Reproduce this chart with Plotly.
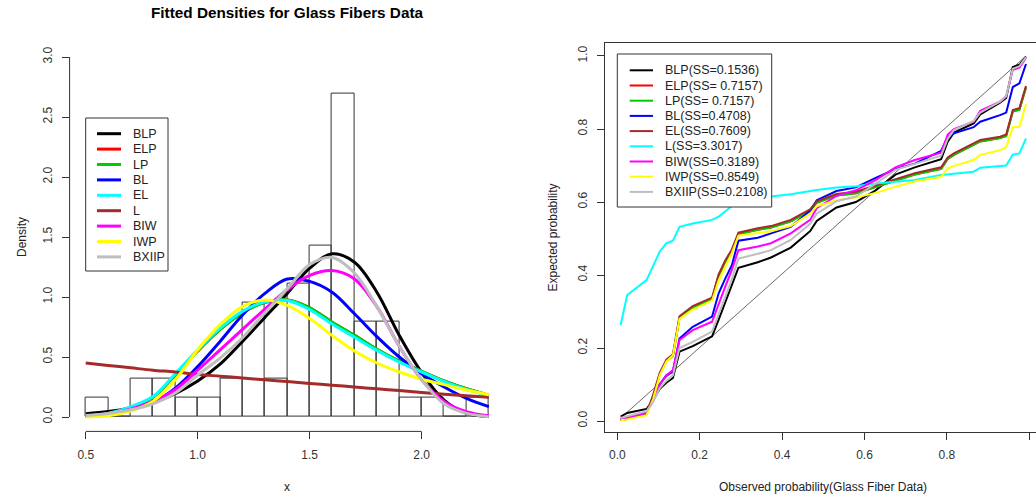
import plotly.graph_objects as go

# ---------------- Left panel: histogram + fitted densities ----------------
hist_breaks = [0.5, 0.6, 0.7, 0.8, 0.9, 1.0, 1.1, 1.2, 1.3, 1.4, 1.5, 1.6, 1.7, 1.8, 1.9, 2.0, 2.1, 2.2, 2.3]
hist_density = [0.159, 0.0, 0.317, 0.317, 0.159, 0.159, 0.317, 0.952, 0.317, 1.111,
                1.429, 2.698, 0.794, 0.794, 0.159, 0.159, 0.0, 0.159]

dens_x = [0.5, 0.6, 0.7, 0.8, 0.9, 1.0, 1.1, 1.2, 1.3, 1.4, 1.5, 1.6, 1.7, 1.8, 1.9, 2.0, 2.1, 2.2, 2.3]
dens_BLP = [0.027, 0.045, 0.075, 0.12, 0.195, 0.30, 0.44, 0.63, 0.83, 1.03, 1.24, 1.36, 1.29, 1.04, 0.68, 0.37, 0.14, 0.03, 0.004]
dens_ELP = [0.008, 0.028, 0.08, 0.165, 0.35, 0.55, 0.73, 0.87, 0.955, 0.975, 0.91, 0.79, 0.68, 0.565, 0.465, 0.38, 0.30, 0.235, 0.18]
dens_LP = [0.008, 0.028, 0.08, 0.165, 0.35, 0.55, 0.73, 0.87, 0.955, 0.975, 0.91, 0.79, 0.68, 0.565, 0.465, 0.38, 0.30, 0.235, 0.18]
dens_BL = [0.006, 0.02, 0.06, 0.12, 0.24, 0.42, 0.63, 0.85, 1.03, 1.15, 1.13, 1.04, 0.86, 0.67, 0.50, 0.36, 0.25, 0.155, 0.086]
dens_EL = [0.01, 0.03, 0.085, 0.17, 0.36, 0.56, 0.74, 0.88, 0.96, 0.97, 0.895, 0.775, 0.665, 0.555, 0.458, 0.375, 0.295, 0.23, 0.175]
dens_L = [0.45, 0.43, 0.41, 0.39, 0.375, 0.355, 0.34, 0.325, 0.31, 0.295, 0.28, 0.265, 0.25, 0.235, 0.22, 0.205, 0.19, 0.178, 0.165]
dens_BIW = [0.008, 0.025, 0.065, 0.13, 0.23, 0.39, 0.56, 0.73, 0.90, 1.06, 1.18, 1.22, 1.15, 0.92, 0.59, 0.31, 0.13, 0.045, 0.01]
dens_IWP = [0.0, 0.01, 0.05, 0.13, 0.31, 0.56, 0.77, 0.92, 0.975, 0.93, 0.82, 0.68, 0.55, 0.45, 0.375, 0.315, 0.27, 0.225, 0.185]
dens_BXIIP = [0.012, 0.03, 0.06, 0.11, 0.20, 0.35, 0.49, 0.66, 0.87, 1.07, 1.27, 1.33, 1.20, 0.92, 0.59, 0.31, 0.11, 0.03, 0.003]

dens_names = ["BLP", "ELP", "LP", "BL", "EL", "L", "BIW", "IWP", "BXIIP"]
dens_colors = ["#000000", "#FF0000", "#00CD00", "#0000FF", "#00FFFF", "#A52A2A", "#FF00FF", "#FFFF00", "#BEBEBE"]
dens_series = [dens_BLP, dens_ELP, dens_LP, dens_BL, dens_EL, dens_L, dens_BIW, dens_IWP, dens_BXIIP]

# ---------------- Right panel: P-P plot ----------------
pp_obs = [0.008, 0.024, 0.071, 0.087, 0.103, 0.119, 0.135, 0.151, 0.183, 0.230, 0.246, 0.262, 0.278, 0.294,
          0.341, 0.373, 0.421, 0.468, 0.484, 0.532, 0.579, 0.627, 0.675, 0.722, 0.786, 0.802, 0.817, 0.865,
          0.881, 0.929, 0.944, 0.960, 0.976, 0.992]
pp_BLP = [0.012, 0.022, 0.033, 0.058, 0.088, 0.105, 0.118, 0.19, 0.205, 0.232, 0.278, 0.325, 0.37, 0.42,
          0.435, 0.448, 0.475, 0.52, 0.548, 0.585, 0.60, 0.632, 0.675, 0.695, 0.717, 0.765, 0.79, 0.815,
          0.84, 0.872, 0.885, 0.97, 0.976, 0.998]
pp_ELP = [0.003, 0.006, 0.02, 0.068, 0.128, 0.164, 0.179, 0.283, 0.311, 0.334, 0.398, 0.436, 0.466, 0.512,
          0.524, 0.53, 0.547, 0.576, 0.598, 0.618, 0.624, 0.641, 0.658, 0.675, 0.691, 0.718, 0.729, 0.757,
          0.766, 0.775, 0.781, 0.848, 0.853, 0.914]
pp_LP = [0.003, 0.006, 0.02, 0.068, 0.128, 0.164, 0.179, 0.283, 0.311, 0.334, 0.398, 0.436, 0.466, 0.512,
         0.524, 0.53, 0.547, 0.576, 0.598, 0.618, 0.624, 0.641, 0.658, 0.675, 0.691, 0.718, 0.729, 0.757,
         0.766, 0.775, 0.781, 0.848, 0.853, 0.914]
pp_BL = [0.005, 0.009, 0.022, 0.058, 0.10, 0.125, 0.135, 0.226, 0.258, 0.286, 0.35, 0.39, 0.427, 0.494,
         0.502, 0.514, 0.532, 0.576, 0.605, 0.63, 0.64, 0.666, 0.69, 0.705, 0.74, 0.778, 0.788, 0.805,
         0.82, 0.838, 0.845, 0.915, 0.925, 0.978]
pp_EL = [0.003, 0.006, 0.02, 0.072, 0.132, 0.168, 0.183, 0.287, 0.315, 0.338, 0.402, 0.44, 0.47, 0.516,
         0.528, 0.534, 0.551, 0.58, 0.602, 0.622, 0.628, 0.645, 0.662, 0.679, 0.695, 0.722, 0.733, 0.761,
         0.77, 0.779, 0.785, 0.852, 0.857, 0.918]
pp_L = [0.263, 0.345, 0.386, 0.423, 0.464, 0.487, 0.494, 0.532, 0.541, 0.551, 0.56, 0.574, 0.589, 0.60,
        0.61, 0.615, 0.621, 0.631, 0.633, 0.64, 0.643, 0.651, 0.656, 0.66, 0.674, 0.676, 0.678, 0.683,
        0.694, 0.699, 0.70, 0.73, 0.733, 0.774]
pp_BIW = [0.005, 0.009, 0.022, 0.055, 0.10, 0.125, 0.14, 0.222, 0.249, 0.272, 0.322, 0.368, 0.414, 0.468,
          0.478, 0.487, 0.514, 0.551, 0.583, 0.617, 0.632, 0.66, 0.695, 0.715, 0.735, 0.785, 0.80, 0.82,
          0.85, 0.875, 0.89, 0.962, 0.968, 0.995]
pp_IWP = [0.002, 0.004, 0.016, 0.06, 0.125, 0.163, 0.18, 0.28, 0.305, 0.33, 0.385, 0.425, 0.46, 0.508,
          0.516, 0.52, 0.534, 0.568, 0.588, 0.605, 0.612, 0.625, 0.642, 0.656, 0.669, 0.692, 0.699, 0.715,
          0.729, 0.742, 0.75, 0.805, 0.806, 0.868]
pp_BXIIP = [0.008, 0.013, 0.027, 0.052, 0.09, 0.11, 0.125, 0.20, 0.217, 0.245, 0.29, 0.34, 0.388, 0.445,
            0.458, 0.468, 0.496, 0.54, 0.568, 0.602, 0.615, 0.65, 0.688, 0.705, 0.727, 0.773, 0.797, 0.822,
            0.845, 0.875, 0.89, 0.965, 0.972, 0.997]
diag_x = [0.008, 0.992]
diag_y = [0.008, 1.0]

pp_names = ["BLP(SS=0.1536)", "ELP(SS= 0.7157)", "LP(SS= 0.7157)", "BL(SS=0.4708)", "EL(SS=0.7609)",
            "L(SS=3.3017)", "BIW(SS=0.3189)", "IWP(SS=0.8549)", "BXIIP(SS=0.2108)"]
pp_colors = ["#000000", "#FF0000", "#00CD00", "#0000FF", "#A52A2A", "#00FFFF", "#FF00FF", "#FFFF00", "#BEBEBE"]
pp_series = [pp_BLP, pp_ELP, pp_LP, pp_BL, pp_EL, pp_L, pp_BIW, pp_IWP, pp_BXIIP]

# ---------------- Figure ----------------
W, H = 1036, 498
FONT = "Liberation Sans, Arial, sans-serif"
TXT = "#222222"

def px(xp):
    return xp / W

def py(yp):
    return 1 - yp / H

fig = go.Figure()

mids = [(a + b) / 2 for a, b in zip(hist_breaks[:-1], hist_breaks[1:])]
fig.add_trace(go.Bar(x=mids, y=hist_density, width=0.1,
                     marker=dict(color="rgba(255,255,255,0)", line=dict(color="#333333", width=1)),
                     xaxis="x", yaxis="y", showlegend=False, hoverinfo="skip"))
for name, col, ys in zip(dens_names, dens_colors, dens_series):
    fig.add_trace(go.Scatter(x=dens_x, y=ys, mode="lines", name=name,
                             line=dict(color=col, width=3, shape="spline", smoothing=1.0),
                             xaxis="x", yaxis="y", showlegend=False))

fig.add_trace(go.Scatter(x=diag_x, y=diag_y, mode="lines", line=dict(color="#444444", width=0.8),
                         xaxis="x2", yaxis="y2", showlegend=False))
for name, col, ys in zip(pp_names, pp_colors, pp_series):
    fig.add_trace(go.Scatter(x=pp_obs, y=ys, mode="lines", name=name,
                             line=dict(color=col, width=2),
                             xaxis="x2", yaxis="y2", showlegend=False))

axis_common = dict(showgrid=False, zeroline=False, ticks="outside", ticklen=7, tickwidth=1,
                   tickcolor="#333333", tickfont=dict(family=FONT, size=12, color="#333333"),
                   ticklabelstandoff=5)

fig.update_layout(
    width=W, height=H, margin=dict(l=0, r=0, t=0, b=0),
    paper_bgcolor="white", plot_bgcolor="white", bargap=0,
    font=dict(family=FONT, size=12, color=TXT),
    xaxis=dict(domain=[px(69.6), px(505)], range=[0.428, 2.372], tickvals=[0.5, 1.0, 1.5, 2.0],
               ticktext=["0.5", "1.0", "1.5", "2.0"], showline=False, anchor="y", **axis_common),
    yaxis=dict(domain=[py(431.4), py(42.6)], range=[-0.12, 3.12],
               tickvals=[0, 0.5, 1.0, 1.5, 2.0, 2.5, 3.0], tickformat=".1f", tickangle=-90,
               showline=False, anchor="x", **axis_common),
    xaxis2=dict(domain=[px(605), 1.0], range=[-0.0299, 1.0163], tickvals=[0, 0.2, 0.4, 0.6, 0.8, 1.0],
                tickformat=".1f", showline=True, linecolor="#333333", linewidth=1, mirror=True,
                anchor="y2", **axis_common),
    yaxis2=dict(domain=[py(432), py(43)], range=[-0.0301, 1.0356], tickvals=[0, 0.2, 0.4, 0.6, 0.8, 1.0],
                tickformat=".1f", tickangle=-90, showline=True, linecolor="#333333", linewidth=1,
                anchor="x2", **axis_common),
)

shapes = []
# R-style axis lines (only between first and last tick) for left panel
shapes.append(dict(type="line", xref="x", yref="y domain", x0=0.5, x1=2.0, y0=0, y1=0,
                   line=dict(color="#333333", width=1)))
shapes.append(dict(type="line", xref="x domain", yref="y", x0=0, x1=0, y0=0, y1=3.0,
                   line=dict(color="#333333", width=1)))

annotations = []
# Left legend
shapes.append(dict(type="rect", xref="paper", yref="paper", x0=px(85.7), x1=px(168), y0=py(271), y1=py(118),
                   line=dict(color="#333333", width=1), fillcolor="white", layer="above"))
for k, (name, col) in enumerate(zip(dens_names, dens_colors)):
    yy = 133.7 + k * 15.4
    shapes.append(dict(type="line", xref="paper", yref="paper", x0=px(97), x1=px(121), y0=py(yy), y1=py(yy),
                       line=dict(color=col, width=3), layer="above"))
    annotations.append(dict(xref="paper", yref="paper", x=px(131), y=py(yy), text=name, showarrow=False,
                            xanchor="left", yanchor="middle", font=dict(family=FONT, size=12.5, color=TXT)))
# Right legend
shapes.append(dict(type="rect", xref="paper", yref="paper", x0=px(617.3), x1=px(771.7), y0=py(207), y1=py(54),
                   line=dict(color="#333333", width=1), fillcolor="white", layer="above"))
for k, (name, col) in enumerate(zip(pp_names, pp_colors)):
    yy = 70.3 + k * 15.2
    shapes.append(dict(type="line", xref="paper", yref="paper", x0=px(629.7), x1=px(653), y0=py(yy), y1=py(yy),
                       line=dict(color=col, width=2), layer="above"))
    annotations.append(dict(xref="paper", yref="paper", x=px(662.5), y=py(yy), text=name, showarrow=False,
                            xanchor="left", yanchor="middle", font=dict(family=FONT, size=12.5, color=TXT)))

# Titles
annotations.append(dict(xref="paper", yref="paper", x=px(287), y=py(13), text="<b>Fitted Densities for Glass Fibers Data</b>",
                        showarrow=False, xanchor="center", yanchor="middle", font=dict(family=FONT, size=15.3, color="#000000")))
annotations.append(dict(xref="paper", yref="paper", x=px(287.3), y=py(487), text="x", showarrow=False,
                        xanchor="center", yanchor="middle", font=dict(family=FONT, size=12, color=TXT)))
annotations.append(dict(xref="paper", yref="paper", x=px(22), y=py(237), text="Density", showarrow=False,
                        textangle=-90, xanchor="center", yanchor="middle", font=dict(family=FONT, size=12, color=TXT)))
annotations.append(dict(xref="paper", yref="paper", x=px(822.7), y=py(487), text="Observed probability(Glass Fiber Data)",
                        showarrow=False, xanchor="center", yanchor="middle", font=dict(family=FONT, size=12, color=TXT)))
annotations.append(dict(xref="paper", yref="paper", x=px(553), y=py(237.5), text="Expected probability",
                        showarrow=False, textangle=-90, xanchor="center", yanchor="middle",
                        font=dict(family=FONT, size=12, color=TXT)))

fig.update_layout(shapes=shapes, annotations=annotations)
fig.write_html("out.html")
